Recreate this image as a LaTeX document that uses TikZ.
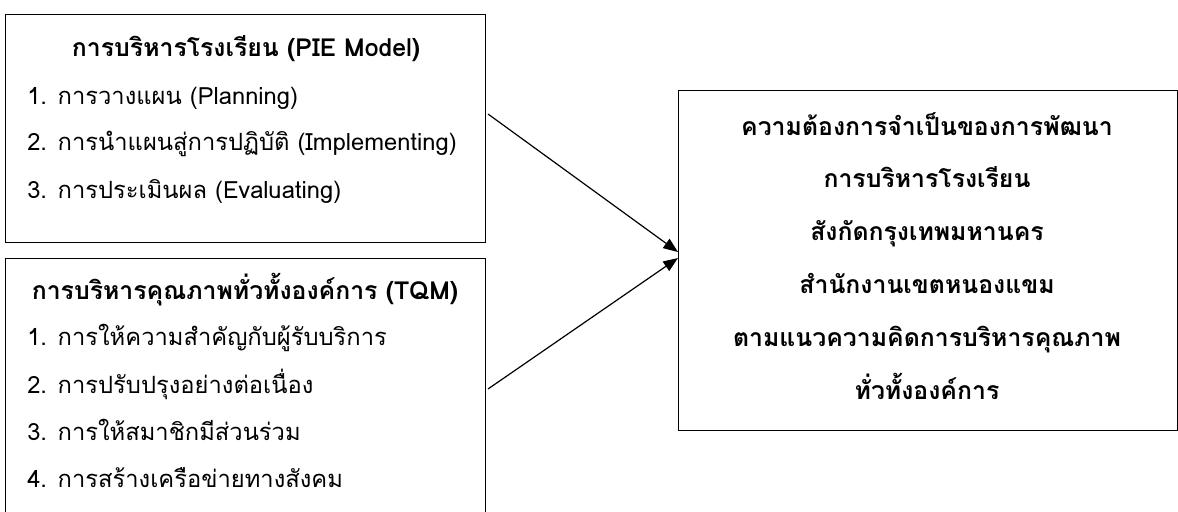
\documentclass[tikz,border=0pt]{standalone}
\usepackage{fontspec}
\newfontfamily\thaifont[Script=Thai]{Loma}
\usetikzlibrary{arrows.meta}
\begin{document}
\begin{tikzpicture}[x=0.75pt,y=-0.75pt,
  box/.style={draw=black,line width=0.8pt,inner sep=0pt,anchor=north west},
  txt/.style={font=\thaifont\fontsize{17.8}{20}\selectfont,inner sep=0pt,anchor=base west},
  ttl/.style={font=\thaifont\bfseries\fontsize{18.6}{21}\selectfont,inner sep=0pt,anchor=base},
  arr/.style={line width=0.9pt,-{Triangle[length=11pt,width=8.5pt]}}]
\useasboundingbox (0,0) rectangle (1178,511);
\node[box,minimum width=480*0.75pt,minimum height=228*0.75pt] (b1) at (5,14) {};
\node[box,minimum width=480*0.75pt,minimum height=270*0.75pt] (b2) at (5,258) {};
\node[box,minimum width=499*0.75pt,minimum height=340*0.75pt] (b3) at (678,90) {};
% box 1
\node[ttl] (t1) at (246,56) {การบริหารโรงเรียน (PIE Model)};
\node[txt] (a1) at (27,104) {1. การวางแผน (Planning)};
\node[txt] (a2) at (27,150) {2. การนำแผนสู่การปฏิบัติ (Implementing)};
\node[txt] (a3) at (27,198) {3. การประเมินผล (Evaluating)};
% box 2
\node[ttl] (t2) at (245,299) {การบริหารคุณภาพทั่วทั้งองค์การ (TQM)};
\node[txt] (c1) at (27,345) {1. การให้ความสำคัญกับผู้รับบริการ};
\node[txt] (c2) at (27,393) {2. การปรับปรุงอย่างต่อเนื่อง};
\node[txt] (c3) at (27,440) {3. การให้สมาชิกมีส่วนร่วม};
\node[txt] (c4) at (27,487) {4. การสร้างเครือข่ายทางสังคม};
% box 3
\node[ttl] (d1) at (927,135) {ความต้องการจำเป็นของการพัฒนา};
\node[ttl] (d2) at (927,187.8) {การบริหารโรงเรียน};
\node[ttl] (d3) at (927,240.6) {สังกัดกรุงเทพมหานคร};
\node[ttl] (d4) at (927,293.4) {สำนักงานเขตหนองแขม};
\node[ttl] (d5) at (927,346.2) {ตามแนวความคิดการบริหารคุณภาพ};
\node[ttl] (d6) at (927,399) {ทั่วทั้งองค์การ};
% arrows
\coordinate (s1) at (488,114);
\coordinate (s2) at (488,389);
\coordinate (e1) at (678,252);
\coordinate (e2) at (678,258);
\draw[arr] (s1) -- (e1);
\draw[arr] (s2) -- (e2);
\end{tikzpicture}
\end{document}
